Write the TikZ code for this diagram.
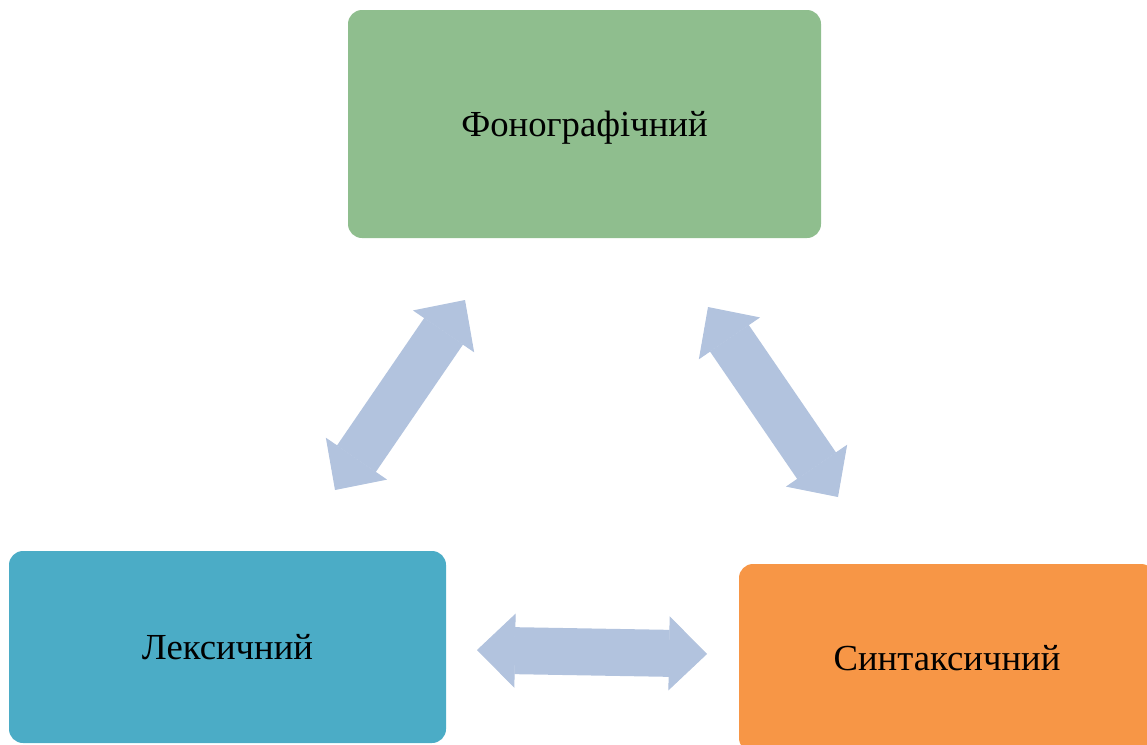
\documentclass[tikz,border=0pt]{standalone}
\usepackage{fontspec}
\setmainfont{Liberation Serif}
\usetikzlibrary{arrows.meta}
\definecolor{fongreen}{RGB}{143,190,142}
\definecolor{lexblue}{RGB}{75,172,198}
\definecolor{synorange}{RGB}{247,150,70}
\definecolor{linkblue}{RGB}{178,195,222}
\tikzset{
  level/.style={rounded corners=14pt, text=black, inner sep=0pt, text depth=0pt,
    font=\fontsize{36.7}{40}\selectfont},
  link/.style={linkblue, line width=47pt, {Triangle[length=38pt,width=74pt,line width=1pt]}-{Triangle[length=38pt,width=74pt,line width=1pt]}}
}
\begin{document}
\begin{tikzpicture}[x=1pt,y=-1pt]
    \useasboundingbox (0,0) rectangle (1147,744);
    \clip (0,0) rectangle (1147,744);
    % three levels
    \node[level, fill=fongreen, minimum width=473pt, minimum height=228pt] (fon) at (584.5,124) {Фонографічний};
    \node[level, fill=lexblue, minimum width=437pt, minimum height=192pt] (lex) at (227.5,647) {Лексичний};
    \node[level, fill=synorange, minimum width=416pt, minimum height=188pt] (syn) at (947,658) {Синтаксичний};
    % arrow ends
    \coordinate (lexup) at (335,490);
    \coordinate (fonleft) at (465,300);
    \coordinate (fonright) at (708,307);
    \coordinate (synup) at (838,497);
    \coordinate (lexright) at (477,650);
    \coordinate (synleft) at (707,654);
    \draw[link] (lexup) -- (fonleft);
    \draw[link] (fonright) -- (synup);
    \draw[link] (lexright) -- (synleft);
\end{tikzpicture}
\end{document}
